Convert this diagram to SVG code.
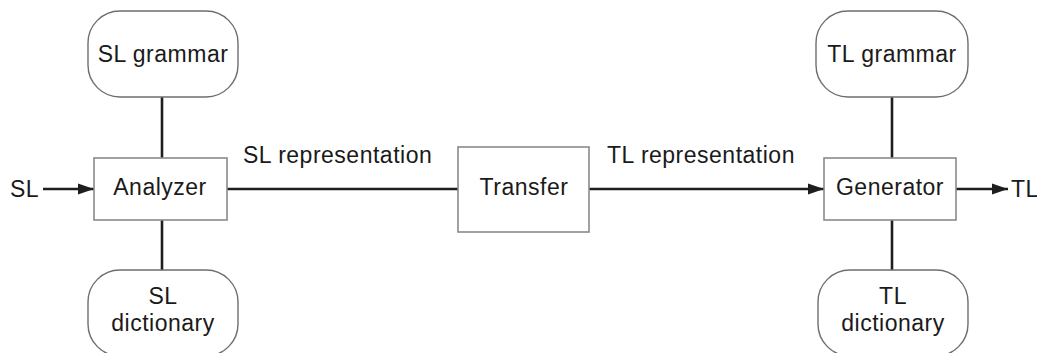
<svg xmlns="http://www.w3.org/2000/svg" width="1037" height="353" viewBox="0 0 1037 353">
  <style>
    text { font-family: "Liberation Sans", Arial, sans-serif; font-size: 23px; fill: #1a1a1a; letter-spacing: 0.5px; }
    .mid { text-anchor: middle; }
    .box { fill: #ffffff; stroke: #8a8a8a; stroke-width: 1.6; }
    .res { fill: #ffffff; stroke: #6e6e6e; stroke-width: 1.4; }
    .wire { fill: none; stroke: #1e1e1e; stroke-width: 2.6; }
  </style>
  <defs>
    <marker id="arrow" markerWidth="16" markerHeight="12" refX="16" refY="6" orient="auto" markerUnits="userSpaceOnUse">
      <path d="M0,0.5 L16,6 L0,11.5 Z" fill="#1e1e1e"/>
    </marker>
  </defs>
  <rect width="1037" height="353" fill="#ffffff"/>

  <!-- connectors -->
  <g id="connectors">
    <line class="wire" x1="43" y1="189" x2="94" y2="189" marker-end="url(#arrow)"/>
    <line class="wire" x1="162" y1="97" x2="162" y2="158"/>
    <line class="wire" x1="162" y1="220" x2="162" y2="270"/>
    <line class="wire" x1="227" y1="189" x2="458" y2="189"/>
    <line class="wire" x1="589" y1="189" x2="824" y2="189" marker-end="url(#arrow)"/>
    <line class="wire" x1="892" y1="97" x2="892" y2="158"/>
    <line class="wire" x1="892" y1="220" x2="892" y2="270"/>
    <line class="wire" x1="956" y1="189" x2="1008" y2="189" marker-end="url(#arrow)"/>
  </g>

  <!-- edge labels -->
  <g id="labels">
    <text x="10" y="197">SL</text>
    <text x="243" y="163">SL representation</text>
    <text x="607" y="163">TL representation</text>
    <text x="1011" y="197">TL</text>
  </g>

  <g id="sl-grammar">
    <rect class="res" x="88" y="11" width="150" height="86" rx="32" ry="32"/>
    <text class="mid" x="163" y="62">SL grammar</text>
  </g>

  <g id="analyzer">
    <rect class="box" x="94" y="158" width="133" height="62"/>
    <text class="mid" x="160" y="195">Analyzer</text>
  </g>

  <g id="sl-dictionary">
    <rect class="res" x="88" y="270" width="150" height="86" rx="32" ry="32"/>
    <text class="mid" x="163" y="304">SL</text>
    <text class="mid" x="163" y="331">dictionary</text>
  </g>

  <g id="transfer">
    <rect class="box" x="458" y="147" width="131" height="85"/>
    <text class="mid" x="524" y="195">Transfer</text>
  </g>

  <g id="tl-grammar">
    <rect class="res" x="816" y="11" width="152" height="86" rx="32" ry="32"/>
    <text class="mid" x="892" y="62">TL grammar</text>
  </g>

  <g id="generator">
    <rect class="box" x="824" y="158" width="132" height="62"/>
    <text class="mid" x="890" y="195">Generator</text>
  </g>

  <g id="tl-dictionary">
    <rect class="res" x="818" y="270" width="150" height="86" rx="32" ry="32"/>
    <text class="mid" x="893" y="304">TL</text>
    <text class="mid" x="893" y="331">dictionary</text>
  </g>
</svg>
